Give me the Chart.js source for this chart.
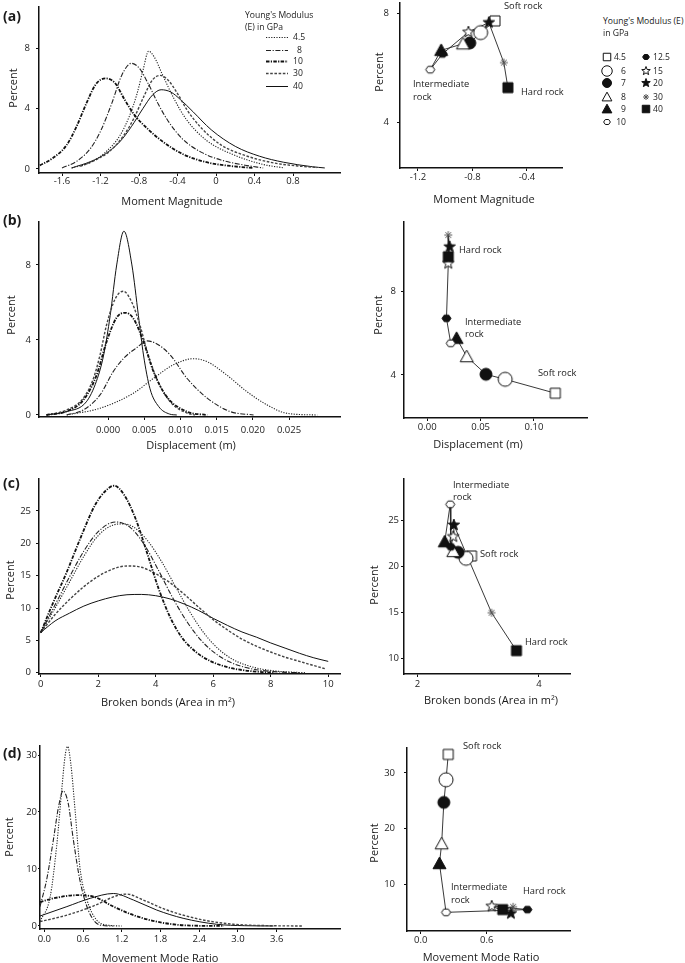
<!DOCTYPE html>
<html>
<head>
<meta charset="utf-8">
<script src="https://cdn.jsdelivr.net/npm/chart.js@4.4.1/dist/chart.umd.min.js"></script>
<style>
  html, body { margin: 0; padding: 0; background: #fff; }
  body { width: 685px; height: 963px; position: relative; overflow: hidden; font-family: "Open Sans", sans-serif; color: #1a1a1a; }
  canvas { position: absolute; }
  .t { position: absolute; white-space: nowrap; line-height: 1; transform: translateY(-50%); }
  .c { position: absolute; white-space: nowrap; line-height: 1; transform: translate(-50%, -50%); }
  .rot { position: absolute; white-space: nowrap; line-height: 1; transform: translate(-50%, -50%) rotate(-90deg); }
</style>
</head>
<body>
<script>
// ---- series names ----
const curveNames = ['4.5', '8', '10', '30', '40'];
const eLabels = ['4.5', '6', '7', '8', '9', '10', '12.5', '15', '20', '30', '40'];

// ---- (a) moment magnitude distributions ----
const mmX45 = [-1.5, -1.3, -1.15, -1.0, -0.9, -0.82, -0.76, -0.70, -0.64, -0.56, -0.44, -0.31, -0.1, 0.18, 0.49, 0.71];
const mmY45 = [0.07, 0.45, 1.1, 2.2, 3.5, 5.0, 6.5, 7.8, 7.4, 6.3, 4.7, 3.3, 1.9, 0.95, 0.3, 0.07];
const mmX8 = [-1.6, -1.45, -1.3, -1.2, -1.08, -0.98, -0.88, -0.8, -0.7, -0.6, -0.5, -0.35, -0.15, 0.05, 0.3, 0.49];
const mmY8 = [0.07, 0.5, 1.4, 2.5, 4.4, 6.2, 7.0, 6.7, 5.6, 4.3, 3.2, 2.0, 1.1, 0.6, 0.25, 0.07];
const mmX10 = [-1.83, -1.7, -1.55, -1.45, -1.35, -1.25, -1.15, -1.05, -0.95, -0.85, -0.7, -0.55, -0.35, -0.1, 0.15, 0.39];
const mmY10 = [0.24, 0.7, 1.6, 2.8, 4.3, 5.6, 6.0, 5.7, 4.6, 3.6, 2.6, 1.8, 1.0, 0.45, 0.2, 0.07];
const mmX30 = [-1.41, -1.25, -1.1, -0.95, -0.85, -0.75, -0.66, -0.58, -0.5, -0.4, -0.3, -0.15, 0.05, 0.3, 0.6, 0.85, 1.05];
const mmY30 = [0.18, 0.6, 1.2, 2.3, 3.4, 4.8, 5.9, 6.2, 5.9, 5.0, 3.9, 2.7, 1.6, 0.9, 0.4, 0.2, 0.1];
const mmX40 = [-1.5, -1.3, -1.15, -1.0, -0.88, -0.76, -0.66, -0.57, -0.47, -0.37, -0.24, -0.05, 0.2, 0.45, 0.7, 1.0, 1.13];
const mmY40 = [0.07, 0.5, 1.0, 1.8, 2.8, 4.0, 4.9, 5.25, 5.1, 4.6, 3.8, 2.6, 1.5, 0.85, 0.45, 0.15, 0.07];
const mmRightX = [-0.635, -0.74, -0.82, -0.87, -1.03, -1.11, -1.02, -0.83, -0.68, -0.57, -0.54];
const mmRightY = [7.71, 7.28, 6.9, 6.87, 6.63, 5.92, 6.5, 7.3, 7.65, 6.18, 5.26];

// ---- (b) displacement ----
const dpX45 = [-0.0057, -0.0011, 0.0035, 0.0063, 0.009, 0.0118, 0.0137, 0.0164, 0.0192, 0.022, 0.0247, 0.0289];
const dpY45 = [0, 0.36, 1.16, 1.96, 2.67, 3.0, 2.84, 2.13, 1.24, 0.53, 0.09, 0];
const dpX8 = [-0.0057, -0.0034, -0.0011, 0.0007, 0.0021, 0.004, 0.0054, 0.0067, 0.0086, 0.0109, 0.0137, 0.0169, 0.0201];
const dpY8 = [0, 0.27, 1.07, 2.3, 3.0, 3.6, 3.95, 3.8, 3.2, 1.96, 0.9, 0.18, 0];
const dpX10 = [-0.0085, -0.0057, -0.0034, -0.0016, -0.0002, 0.0012, 0.0024, 0.0035, 0.0049, 0.0063, 0.0081, 0.0109, 0.0137];
const dpY10 = [0, 0.2, 0.8, 2.1, 3.9, 5.2, 5.45, 5.15, 3.9, 2.3, 0.98, 0.18, 0];
const dpX30 = [-0.0085, -0.0057, -0.0034, -0.002, -0.0011, -0.0002, 0.001, 0.0021, 0.0033, 0.0044, 0.0054, 0.0067, 0.0086, 0.011, 0.012];
const dpY30 = [0, 0.27, 0.9, 1.96, 3.2, 4.8, 6.2, 6.6, 6.0, 4.8, 3.4, 1.96, 0.7, 0.09, 0];
const dpX40 = [-0.0085, -0.0057, -0.003, -0.0016, -0.0006, 0.0003, 0.0012, 0.0022, 0.0033, 0.0042, 0.0049, 0.0058, 0.007, 0.0085, 0.0095];
const dpY40 = [0, 0.18, 0.7, 1.8, 3.2, 5.3, 8.0, 9.8, 8.0, 5.3, 3.2, 1.4, 0.45, 0.05, 0];
const dpRightX = [0.12, 0.073, 0.055, 0.037, 0.0275, 0.022, 0.018, 0.0197, 0.021, 0.0197, 0.0197];
const dpRightY = [3.12, 3.79, 4.03, 4.88, 5.76, 5.52, 6.72, 9.36, 10.16, 10.72, 9.68];

// ---- (c) broken bonds ----
const bbX45 = [0, 0.5, 1, 1.5, 2, 2.5, 2.85, 3.2, 3.7, 4.2, 4.7, 5.2, 5.7, 6.2, 6.7, 7.2, 7.7, 8.2, 8.7, 9.2];
const bbY45 = [6.2, 10, 14, 18, 21.2, 22.8, 23, 22.6, 20.5, 17.2, 13.2, 9.3, 6.0, 3.6, 2.0, 1.1, 0.55, 0.25, 0.1, 0];
const bbX8 = [0, 0.5, 1, 1.5, 2, 2.6, 3.1, 3.6, 4.1, 4.6, 5.1, 5.6, 6.1, 6.6, 7.1, 7.6, 8.1, 8.6, 9.0];
const bbY8 = [6.2, 10.5, 14.8, 18.8, 21.8, 23.3, 22.5, 19.8, 15.8, 11.5, 7.8, 4.9, 2.9, 1.6, 0.85, 0.4, 0.17, 0.05, 0];
const bbX10 = [0, 0.4, 0.9, 1.4, 1.9, 2.3, 2.55, 2.9, 3.3, 3.7, 4.1, 4.5, 4.9, 5.4, 5.9, 6.5, 7.1, 7.7, 8.1];
const bbY10 = [6.2, 10.5, 15.5, 21, 26, 28.3, 28.9, 27.5, 23.8, 18.5, 13, 8.6, 5.5, 3.2, 1.8, 0.85, 0.35, 0.1, 0];
const bbX30 = [0, 0.5, 1, 1.5, 2, 2.5, 3, 3.5, 4, 4.5, 5, 5.5, 6, 6.5, 7, 7.5, 8, 8.5, 9, 9.5, 9.9];
const bbY30 = [6.2, 9, 11.3, 13.3, 14.9, 16, 16.5, 16.3, 15.3, 13.9, 12.1, 10.1, 8.2, 6.6, 5.2, 4.1, 3.2, 2.4, 1.75, 1.1, 0.6];
const bbX40 = [0, 0.5, 1, 1.5, 2, 2.5, 3, 3.5, 4, 4.5, 5, 5.5, 6, 6.5, 7, 7.5, 8, 8.5, 9, 9.5, 10];
const bbY40 = [6.2, 8.0, 9.2, 10.3, 11.1, 11.7, 12.05, 12.1, 11.9, 11.4, 10.6, 9.6, 8.4, 7.3, 6.3, 5.5, 4.6, 3.8, 3.0, 2.3, 1.75];
const bbRightX = [2.89, 2.8, 2.67, 2.59, 2.45, 2.54, 2.55, 2.59, 2.6, 3.22, 3.63];
const bbRightY = [21.1, 20.85, 21.5, 21.6, 22.65, 26.7, 22.1, 23.2, 24.46, 14.95, 10.83];

// ---- (d) movement mode ratio ----
const mrX45 = [-0.067, 0.09, 0.19, 0.27, 0.32, 0.36, 0.41, 0.48, 0.55, 0.66, 0.81, 1.02, 1.2];
const mrY45 = [0.76, 5.1, 13.9, 23.9, 29.7, 31.5, 28.5, 19.8, 10.4, 4.6, 1.05, 0.1, 0];
const mrX8 = [-0.067, 0.036, 0.14, 0.22, 0.29, 0.37, 0.45, 0.55, 0.68, 0.86, 1.07];
const mrY8 = [3.4, 8.1, 15.1, 20.9, 23.7, 21.5, 15.1, 8.1, 2.8, 0.18, 0];
const mrX10 = [-0.067, 0.14, 0.5, 0.76, 1.07, 1.38, 1.74, 2.2, 2.78];
const mrY10 = [4.2, 4.85, 5.4, 5.15, 3.4, 1.9, 0.76, 0.1, 0];
const mrX30 = [-0.067, 0.35, 0.76, 1.12, 1.28, 1.53, 1.9, 2.41, 2.93, 3.5, 4.0];
const mrY30 = [0.76, 1.9, 3.5, 5.3, 5.6, 4.56, 2.8, 1.17, 0.3, 0.05, 0];
const mrX40 = [-0.067, 0.35, 0.71, 1.07, 1.38, 1.74, 2.15, 2.67, 3.1, 3.55];
const mrY40 = [1.75, 3.4, 4.85, 5.7, 4.56, 2.8, 1.35, 0.3, 0.05, 0];
const mrRightX = [0.25, 0.23, 0.21, 0.19, 0.17, 0.23, 0.97, 0.645, 0.82, 0.84, 0.745];
const mrRightY = [33.3, 28.75, 24.7, 17.3, 13.75, 5.0, 5.5, 6.1, 4.8, 6.0, 5.5];

// ---- tick labels ----
const mmTicks = [-1.6, -1.2, -0.8, -0.4, 0, 0.4, 0.8];
const mmTickLabels = ['-1.6', '-1.2', '-0.8', '-0.4', '0', '0.4', '0.8'];
const mmRightTicks = [-1.2, -0.8, -0.4];
const mmRightTickLabels = ['-1.2', '-0.8', '-0.4'];
const dpTicks = [0, 0.005, 0.01, 0.015, 0.02, 0.025];
const dpTickLabels = ['0.000', '0.005', '0.010', '0.015', '0.020', '0.025'];
const dpRightTicks = [0, 0.05, 0.1];
const dpRightTickLabels = ['0.00', '0.05', '0.10'];
const bbTicks = [0, 2, 4, 6, 8, 10];
const bbTickLabels = ['0', '2', '4', '6', '8', '10'];
const bbRightTicks = [2, 4];
const bbRightTickLabels = ['2', '4'];
const mrTicks = [0, 0.6, 1.2, 1.8, 2.4, 3.0, 3.6];
const mrTickLabels = ['0.0', '0.6', '1.2', '1.8', '2.4', '3.0', '3.6'];
const mrRightTicks = [0, 0.6];
const mrRightTickLabels = ['0.0', '0.6'];
const pctTicksAB = [0, 4, 8];
const pctTicksRightAB = [4, 8];
const pctTicksC = [0, 5, 10, 15, 20, 25];
const pctTicksRightC = [10, 15, 20, 25];
const pctTicksD = [0, 10, 20, 30];
const pctTicksRightD = [10, 20, 30];

// ---- styles ----
const curveStyle = {
  '4.5': { dash: [1.2, 1.4], w: 1.1, color: '#222' },
  '8': { dash: [5, 1.6, 1.2, 1.6], w: 1.1, color: '#222' },
  '10': { dash: [3.5, 1.3, 1.2, 1.3], w: 1.8, color: '#111' },
  '30': { dash: [2.6, 1.6], w: 1.4, color: '#444' },
  '40': { dash: [], w: 1, color: '#111' }
};
const eMarks = ['sq', 'ci', 'ciF', 'tr', 'trF', 'hx', 'hxF', 'st', 'stF', 'ast', 'sqF'];
const markSize = { sq: 10, ci: 14, ciF: 12, tr: 13, trF: 13, hx: 9, hxF: 9, st: 12, stF: 12, ast: 8, sqF: 10 };

Chart.defaults.font.family = '"Open Sans", sans-serif';

function drawMark(g, kind, cx, cy, d) {
  const r = d / 2;
  const filled = kind.endsWith('F');
  const k = filled ? kind.slice(0, -1) : kind;
  g.save();
  g.lineWidth = 1;
  g.strokeStyle = '#111';
  g.fillStyle = filled ? '#111' : '#fff';
  g.beginPath();
  if (k === 'sq') g.rect(cx - r, cy - r, d, d);
  else if (k === 'ci') g.arc(cx, cy, r, 0, Math.PI * 2);
  else if (k === 'tr') { g.moveTo(cx, cy - r); g.lineTo(cx + r, cy + r * 0.8); g.lineTo(cx - r, cy + r * 0.8); g.closePath(); }
  else if (k === 'hx') {
    for (let i = 0; i < 6; i++) { const a = i * Math.PI / 3; g.lineTo(cx + r * Math.cos(a), cy + r * 0.85 * Math.sin(a)); }
    g.closePath();
  } else if (k === 'st') {
    for (let i = 0; i < 10; i++) {
      const a = -Math.PI / 2 + i * Math.PI / 5;
      const rr = i % 2 ? r * 0.42 : r;
      g.lineTo(cx + rr * Math.cos(a), cy + rr * Math.sin(a));
    }
    g.closePath();
  } else if (k === 'ast') {
    g.strokeStyle = '#555';
    for (let i = 0; i < 4; i++) {
      const a = i * Math.PI / 4;
      g.moveTo(cx - r * Math.cos(a), cy - r * Math.sin(a));
      g.lineTo(cx + r * Math.cos(a), cy + r * Math.sin(a));
    }
    g.stroke();
    g.restore();
    return;
  }
  g.fill();
  g.stroke();
  g.restore();
}

function markImg(kind, d) {
  const c = document.createElement('canvas');
  const s = Math.ceil(d) + 4;
  c.width = s; c.height = s;
  drawMark(c.getContext('2d'), kind, s / 2, s / 2, d);
  return c;
}

function axis(a, horiz, size) {
  return {
    type: 'linear',
    min: a.min, max: a.max,
    afterFit: s => { if (horiz) s.height = size; else s.width = size; },
    afterBuildTicks: s => { s.ticks = a.ticks.map(v => ({ value: v })); },
    ticks: {
      callback: (v, i) => a.labels[i],
      font: { size: 9.5 }, color: '#222',
      padding: a.pad, maxRotation: 0, autoSkip: false
    },
    grid: { drawOnChartArea: false, drawTicks: true, tickLength: a.tl || 3, color: '#111', lineWidth: 1 },
    border: { display: true, color: '#111', width: 1.5 }
  };
}

function panel(area, x, y, datasets) {
  const m = { l: 42, t: 14, r: 16, b: 26 };
  const cv = document.createElement('canvas');
  cv.width = area.R - area.L + m.l + m.r;
  cv.height = area.B - area.T + m.t + m.b;
  cv.style.left = (area.L - m.l) + 'px';
  cv.style.top = (area.T - m.t) + 'px';
  document.body.appendChild(cv);
  return new Chart(cv, {
    type: 'scatter',
    data: { datasets },
    options: {
      responsive: false, animation: false, devicePixelRatio: 1,
      layout: { padding: { top: m.t, right: m.r, left: 0, bottom: 0 } },
      plugins: { legend: { display: false }, tooltip: { enabled: false } },
      scales: { x: axis(x, true, m.b), y: axis(y, false, m.l) }
    }
  });
}

function curves(xs, ys) {
  return curveNames.map((name, k) => {
    const st = curveStyle[name];
    return {
      label: name,
      data: xs[k].map((v, i) => ({ x: v, y: ys[k][i] })),
      showLine: true, pointRadius: 0, fill: false, clip: false,
      borderColor: st.color, borderWidth: st.w, borderDash: st.dash,
      cubicInterpolationMode: 'monotone'
    };
  });
}

const eImgs = eMarks.map(k => markImg(k, markSize[k]));
function trail(xs, ys) {
  return [{
    label: 'E',
    data: xs.map((v, i) => ({ x: v, y: ys[i] })),
    showLine: true, tension: 0, clip: false,
    borderColor: '#222', borderWidth: 0.9,
    pointStyle: eImgs, pointRadius: 5
  }];
}

// ---- left column ----
panel({ L: 39, T: 7, R: 340, B: 173 },
  { min: -1.839, max: 1.288, ticks: mmTicks, labels: mmTickLabels, pad: 0 },
  { min: -0.265, max: 10.73, ticks: pctTicksAB, labels: pctTicksAB.map(String), pad: 6 },
  curves([mmX45, mmX8, mmX10, mmX30, mmX40], [mmY45, mmY8, mmY10, mmY30, mmY40]));
panel({ L: 39, T: 222, R: 340, B: 417 },
  { min: -0.00953, max: 0.03204, ticks: dpTicks, labels: dpTickLabels, pad: 5 },
  { min: -0.107, max: 10.29, ticks: pctTicksAB, labels: pctTicksAB.map(String), pad: 5 },
  curves([dpX45, dpX8, dpX10, dpX30, dpX40], [dpY45, dpY8, dpY10, dpY30, dpY40]));
panel({ L: 39, T: 479, R: 340, B: 674 },
  { min: -0.06, max: 10.41, ticks: bbTicks, labels: bbTickLabels, pad: 2 },
  { min: -0.2, max: 29.94, ticks: pctTicksC, labels: pctTicksC.map(String), pad: 5 },
  curves([bbX45, bbX8, bbX10, bbX30, bbX40], [bbY45, bbY8, bbY10, bbY30, bbY40]));
panel({ L: 40, T: 746, R: 340, B: 929 },
  { min: -0.067, max: 4.58, ticks: mrTicks, labels: mrTickLabels, pad: 2 },
  { min: -0.53, max: 31.58, ticks: pctTicksD, labels: pctTicksD.map(String), pad: 1, tl: 2 },
  curves([mrX45, mrX8, mrX10, mrX30, mrX40], [mrY45, mrY8, mrY10, mrY30, mrY40]));

// ---- right column ----
panel({ L: 400, T: 3, R: 562, B: 168 },
  { min: -1.332, max: -0.143, ticks: mmRightTicks, labels: mmRightTickLabels, pad: 1 },
  { min: 2.312, max: 8.367, ticks: pctTicksRightAB, labels: pctTicksRightAB.map(String), pad: 8 },
  trail(mmRightX, mmRightY));
panel({ L: 404, T: 222, R: 587, B: 418 },
  { min: -0.0218, max: 0.1497, ticks: dpRightTicks, labels: dpRightTickLabels, pad: 1 },
  { min: 1.93, max: 11.35, ticks: pctTicksRightAB, labels: pctTicksRightAB.map(String), pad: 5 },
  trail(dpRightX, dpRightY));
panel({ L: 404, T: 479, R: 570, B: 674 },
  { min: 1.78, max: 4.51, ticks: bbRightTicks, labels: bbRightTickLabels, pad: 2 },
  { min: 8.3, max: 29.45, ticks: pctTicksRightC, labels: pctTicksRightC.map(String), pad: 2 },
  trail(bbRightX, bbRightY));
panel({ L: 407, T: 747, R: 570, B: 931 },
  { min: -0.125, max: 1.357, ticks: mrRightTicks, labels: mrRightTickLabels, pad: 0.5 },
  { min: 1.66, max: 34.5, ticks: pctTicksRightD, labels: pctTicksRightD.map(String), pad: 9 },
  trail(mrRightX, mrRightY));

// ---- legends (symbol samples) ----
(function () {
  const cv = document.createElement('canvas');
  cv.width = 30; cv.height = 60;
  cv.style.left = '262px'; cv.style.top = '30px';
  document.body.appendChild(cv);
  const g = cv.getContext('2d');
  const rows = [7, 20, 31, 43, 56];
  curveNames.forEach((name, i) => {
    const st = curveStyle[name];
    g.save();
    g.strokeStyle = st.color; g.lineWidth = st.w; g.setLineDash(st.dash);
    g.beginPath(); g.moveTo(4, rows[i] + 0.5); g.lineTo(26, rows[i] + 0.5); g.stroke();
    g.restore();
  });
})();
(function () {
  const cv = document.createElement('canvas');
  cv.width = 60; cv.height = 90;
  cv.style.left = '595px'; cv.style.top = '45px';
  document.body.appendChild(cv);
  const g = cv.getContext('2d');
  const pos = [[12, 12], [12, 26], [12, 38], [12, 52], [12, 64], [12, 77],
               [51, 12], [51, 26], [51, 38], [51, 52], [51, 64]];
  eMarks.forEach((k, i) => drawMark(g, k, pos[i][0], pos[i][1], markSize[k] * 0.75));
})();

// ---- text ----
function txt(s, x, y, size, cls, extra) {
  const d = document.createElement('div');
  d.className = cls || 't';
  d.textContent = s;
  d.style.left = x + 'px';
  d.style.top = y + 'px';
  d.style.fontSize = size + 'px';
  if (extra) Object.assign(d.style, extra);
  document.body.appendChild(d);
}
const bold = { fontWeight: '700' };
txt('(a)', 3, 16, 14, 't', bold);
txt('(b)', 3, 220, 14, 't', bold);
txt('(c)', 3, 483, 14, 't', bold);
txt('(d)', 3, 753, 14, 't', bold);

[[12, 88], [10, 315], [9, 580], [8, 837], [378, 72], [377, 315], [373, 585], [373, 843]]
  .forEach(p => txt('Percent', p[0], p[1], 11, 'rot'));

txt('Moment Magnitude', 172, 200, 11, 'c');
txt('Moment Magnitude', 484, 198, 11, 'c');
txt('Displacement (m)', 191, 444, 11, 'c');
txt('Displacement (m)', 478, 443, 11, 'c');
txt('Broken bonds (Area in m²)', 168, 701, 11, 'c');
txt('Broken bonds (Area in m²)', 491, 699, 11, 'c');
txt('Movement Mode Ratio', 160, 957, 11, 'c');
txt('Movement Mode Ratio', 481, 956, 11, 'c');

const ann = 9.3;
txt('Soft rock', 504, 6, ann); txt('Intermediate', 413, 84, ann); txt('rock', 413, 97, ann); txt('Hard rock', 521, 92, ann);
txt('Hard rock', 459, 250, ann); txt('Intermediate', 465, 322, ann); txt('rock', 465, 334, ann); txt('Soft rock', 538, 373, ann);
txt('Intermediate', 453, 485, ann); txt('rock', 453, 497, ann); txt('Soft rock', 480, 554, ann); txt('Hard rock', 525, 642, ann);
txt('Soft rock', 463, 746, ann); txt('Intermediate', 451, 887, ann); txt('rock', 451, 900, ann); txt('Hard rock', 523, 891, ann);

const lg = 8.6;
txt("Young's Modulus", 245, 15, lg); txt('(E) in GPa', 245, 27, lg);
[37, 50, 61, 73, 86].forEach((y, i) => txt(curveNames[i], i === 1 ? 297 : 293, y, lg));
txt("Young's Modulus (E)", 603, 21, lg); txt('in GPa', 603, 33, lg);
[57, 71, 83, 97, 109, 122].forEach((y, i) => txt(eLabels[i], 626, y, lg, 't', { transform: 'translate(-100%, -50%)' }));
[57, 71, 83, 97, 109].forEach((y, i) => txt(eLabels[i + 6], 653, y, lg));
</script>
</body>
</html>
